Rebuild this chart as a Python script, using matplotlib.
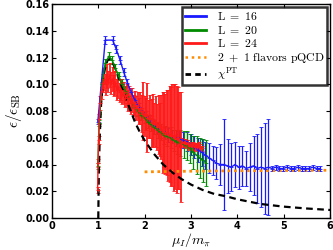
import matplotlib
matplotlib.use("Agg")
import matplotlib.pyplot as plt
from matplotlib.lines import Line2D

plt.rcParams['mathtext.fontset'] = 'cm'

# ---- L = 16 ----
mu16 = [0.99, 1.15, 1.31, 1.39, 1.47, 1.55, 1.63, 1.71, 1.79, 1.87, 1.95, 2.03, 2.11, 2.19,
        2.27, 2.35, 2.43, 2.51, 2.59, 2.67, 2.75, 2.83, 2.91, 2.99, 3.07, 3.15, 3.23, 3.31,
        3.39, 3.47, 3.55, 3.63, 3.71, 3.79, 3.87, 3.95, 4.03, 4.11, 4.19, 4.27, 4.35, 4.43,
        4.51, 4.59, 4.67, 4.75, 4.83, 4.91, 4.99, 5.07, 5.15, 5.23, 5.31, 5.39, 5.47, 5.55,
        5.63, 5.71, 5.79]
e16 = [0.072, 0.133, 0.133, 0.126, 0.118, 0.109, 0.101, 0.094, 0.088, 0.083, 0.079, 0.076,
       0.073, 0.070, 0.067, 0.065, 0.064, 0.062, 0.061, 0.060, 0.059, 0.058, 0.057, 0.055,
       0.053, 0.051, 0.049, 0.047, 0.045, 0.043, 0.041, 0.040, 0.040, 0.039, 0.038, 0.040,
       0.038, 0.039, 0.037, 0.038, 0.039, 0.037, 0.038, 0.037, 0.038, 0.037, 0.038, 0.037,
       0.037, 0.038, 0.037, 0.037, 0.038, 0.037, 0.037, 0.037, 0.038, 0.037, 0.037]
err16 = [0.002, 0.003, 0.003, 0.003, 0.003, 0.003, 0.003, 0.003, 0.003, 0.003, 0.003, 0.004,
         0.004, 0.004, 0.004, 0.005, 0.005, 0.005, 0.005, 0.006, 0.006, 0.006, 0.007, 0.008,
         0.008, 0.009, 0.010, 0.010, 0.011, 0.011, 0.012, 0.015, 0.034, 0.020, 0.018, 0.017,
         0.016, 0.015, 0.013, 0.018, 0.022, 0.026, 0.030, 0.034, 0.036, 0.002, 0.002, 0.002,
         0.002, 0.002, 0.002, 0.002, 0.002, 0.002, 0.002, 0.002, 0.002, 0.002, 0.002]

# ---- L = 20 ----
mu20 = [0.99, 1.02, 1.08, 1.15, 1.23, 1.30, 1.37, 1.44, 1.51, 1.58, 1.65, 1.72, 1.79, 1.86,
        1.93, 2.00, 2.07, 2.14, 2.21, 2.28, 2.35, 2.42, 2.49, 2.56, 2.63, 2.70, 2.77, 2.84,
        2.91, 2.98, 3.05, 3.12, 3.19, 3.26, 3.33]
e20 = [0.039, 0.071, 0.100, 0.116, 0.121, 0.118, 0.112, 0.106, 0.100, 0.095, 0.090, 0.086,
       0.083, 0.080, 0.077, 0.075, 0.072, 0.070, 0.068, 0.066, 0.064, 0.062, 0.061, 0.060,
       0.058, 0.057, 0.056, 0.055, 0.054, 0.052, 0.049, 0.047, 0.045, 0.043, 0.041]
err20 = [0.002, 0.002, 0.002, 0.003, 0.003, 0.003, 0.003, 0.003, 0.004, 0.004, 0.004, 0.004,
         0.004, 0.004, 0.004, 0.004, 0.005, 0.005, 0.005, 0.006, 0.006, 0.007, 0.007, 0.008,
         0.008, 0.009, 0.010, 0.010, 0.011, 0.011, 0.012, 0.014, 0.015, 0.016, 0.017]

# ---- L = 24 ----
mu24 = [0.985, 0.995, 1.005, 1.02, 1.04, 1.07, 1.10, 1.13, 1.16, 1.19, 1.22, 1.25, 1.28,
        1.31, 1.34, 1.37, 1.40, 1.43, 1.46, 1.49, 1.52, 1.55, 1.58, 1.61, 1.64, 1.67, 1.70,
        1.73, 1.76, 1.79, 1.82, 1.85, 1.88, 1.91, 1.94, 1.97, 2.00, 2.03, 2.06, 2.09, 2.12,
        2.15, 2.18, 2.21, 2.24, 2.27, 2.30, 2.33, 2.36, 2.39, 2.42, 2.45, 2.48, 2.51, 2.54,
        2.57, 2.60, 2.63, 2.66, 2.69, 2.72, 2.75, 2.78, 2.81, 2.84, 2.87, 2.90, 2.93, 2.96,
        2.99, 3.02, 3.05, 3.08, 3.11, 3.14, 3.17, 3.20, 3.23]
e24 = [0.021, 0.041, 0.058, 0.074, 0.086, 0.095, 0.101, 0.104, 0.100, 0.106, 0.102, 0.107,
       0.101, 0.104, 0.099, 0.101, 0.096, 0.098, 0.094, 0.096, 0.092, 0.094, 0.090, 0.092,
       0.088, 0.090, 0.086, 0.088, 0.084, 0.086, 0.082, 0.084, 0.080, 0.082, 0.078, 0.080,
       0.076, 0.078, 0.075, 0.074, 0.076, 0.071, 0.073, 0.070, 0.072, 0.068, 0.070, 0.066,
       0.068, 0.064, 0.066, 0.063, 0.064, 0.062, 0.063, 0.061, 0.062, 0.060, 0.061, 0.059,
       0.060, 0.058, 0.053, 0.057, 0.056, 0.057, 0.055, 0.056, 0.054, 0.055, 0.054, 0.055,
       0.053, 0.054, 0.053, 0.054, 0.053, 0.052]
err24 = [0.002, 0.003, 0.003, 0.004, 0.005, 0.006, 0.007, 0.008, 0.008, 0.009, 0.008, 0.009,
         0.008, 0.009, 0.008, 0.009, 0.008, 0.008, 0.007, 0.008, 0.007, 0.008, 0.007, 0.008,
         0.008, 0.009, 0.008, 0.009, 0.008, 0.009, 0.009, 0.010, 0.010, 0.012, 0.014, 0.022,
         0.015, 0.012, 0.026, 0.014, 0.016, 0.018, 0.020, 0.016, 0.019, 0.017, 0.022, 0.020,
         0.024, 0.030, 0.028, 0.030, 0.032, 0.034, 0.036, 0.037, 0.038, 0.040, 0.039, 0.040,
         0.038, 0.036, 0.041, 0.003, 0.003, 0.002, 0.003, 0.002, 0.003, 0.002, 0.003, 0.002,
         0.003, 0.002, 0.002, 0.003, 0.002, 0.002]

# ---- 2+1 flavors pQCD ----
mu_pqcd = [2.0, 3.0, 4.0, 5.0, 6.0]
e_pqcd = [0.0345, 0.0350, 0.0353, 0.0355, 0.0357]

# ---- chiral perturbation theory ----
mu_chpt = [1.0, 1.01, 1.03, 1.06, 1.10, 1.15, 1.20, 1.25, 1.30, 1.40, 1.50, 1.60, 1.70,
           1.80, 1.90, 2.00, 2.20, 2.40, 2.60, 2.80, 3.00, 3.25, 3.50, 3.75, 4.00, 4.50,
           5.00, 5.50, 6.00]
e_chpt = [0.0, 0.030, 0.060, 0.085, 0.103, 0.113, 0.118, 0.119, 0.117, 0.109, 0.099, 0.089,
          0.080, 0.071, 0.064, 0.058, 0.048, 0.040, 0.034, 0.029, 0.025, 0.021, 0.018, 0.0163,
          0.014, 0.0105, 0.0085, 0.0071, 0.006]

leg_labels = [r'$\mathrm{L\ =\ 16}$', r'$\mathrm{L\ =\ 20}$', r'$\mathrm{L\ =\ 24}$',
              r'$2\ +\ 1\ \mathrm{flavors\ pQCD}$', r'$\chi^{\rm PT}$']
c16, c20, c24, cq = '#1a1aff', '#008a00', '#ff1a1a', '#ff8c00'

fig = plt.figure(figsize=(3.33, 2.5), dpi=100)
ax = fig.add_axes([0.156, 0.128, 0.835, 0.856])

for mu, e, err, c, ew in [(mu16, e16, err16, c16, 0.9), (mu20, e20, err20, c20, 0.9),
                          (mu24, e24, err24, c24, 1.3)]:
    ax.errorbar(mu, e, yerr=err, color=c, lw=1.0, elinewidth=ew, capsize=1.5,
                capthick=0.8, marker='+', ms=2.5, mew=0.6)

ax.plot(mu_pqcd, e_pqcd, color=cq, ls=(0, (1, 1.3)), lw=2.0)
ax.plot(mu_chpt, e_chpt, color='black', ls=(0, (3, 2)), lw=1.6)

ax.set_xlim(0, 6)
ax.set_ylim(0, 0.16)
ax.set_xticks([0, 1, 2, 3, 4, 5, 6])
ax.set_yticks([0.0, 0.02, 0.04, 0.06, 0.08, 0.10, 0.12, 0.14, 0.16])
ax.set_yticklabels(['0.00', '0.02', '0.04', '0.06', '0.08', '0.10', '0.12', '0.14', '0.16'])
ax.tick_params(direction='in', top=True, right=True, length=3, width=0.8, labelsize=7, pad=2)
for lab in ax.get_xticklabels() + ax.get_yticklabels():
    lab.set_fontweight('bold')
for s in ax.spines.values():
    s.set_linewidth(1.0)

ax.set_xlabel(r'$\mu_I/m_\pi$', fontsize=10, labelpad=0)
ax.set_ylabel(r'$\epsilon/\epsilon_{\rm SB}$', fontsize=11, labelpad=1)

handles = [Line2D([], [], color=c16, lw=2),
           Line2D([], [], color=c20, lw=2),
           Line2D([], [], color=c24, lw=2),
           Line2D([], [], color=cq, lw=1.8, ls=(0, (1, 1.5))),
           Line2D([], [], color='black', lw=2, ls=(0, (2, 1.5)))]
leg = ax.legend(handles, leg_labels, loc='upper right', bbox_to_anchor=(0.99, 0.985),
                fontsize=8.5, frameon=True, fancybox=False, borderaxespad=0,
                handlelength=1.8, handletextpad=0.9, labelspacing=0.05, borderpad=0.25)
leg.get_frame().set_edgecolor('black')
leg.get_frame().set_linewidth(1.8)

fig.savefig('out.png', dpi=100)
